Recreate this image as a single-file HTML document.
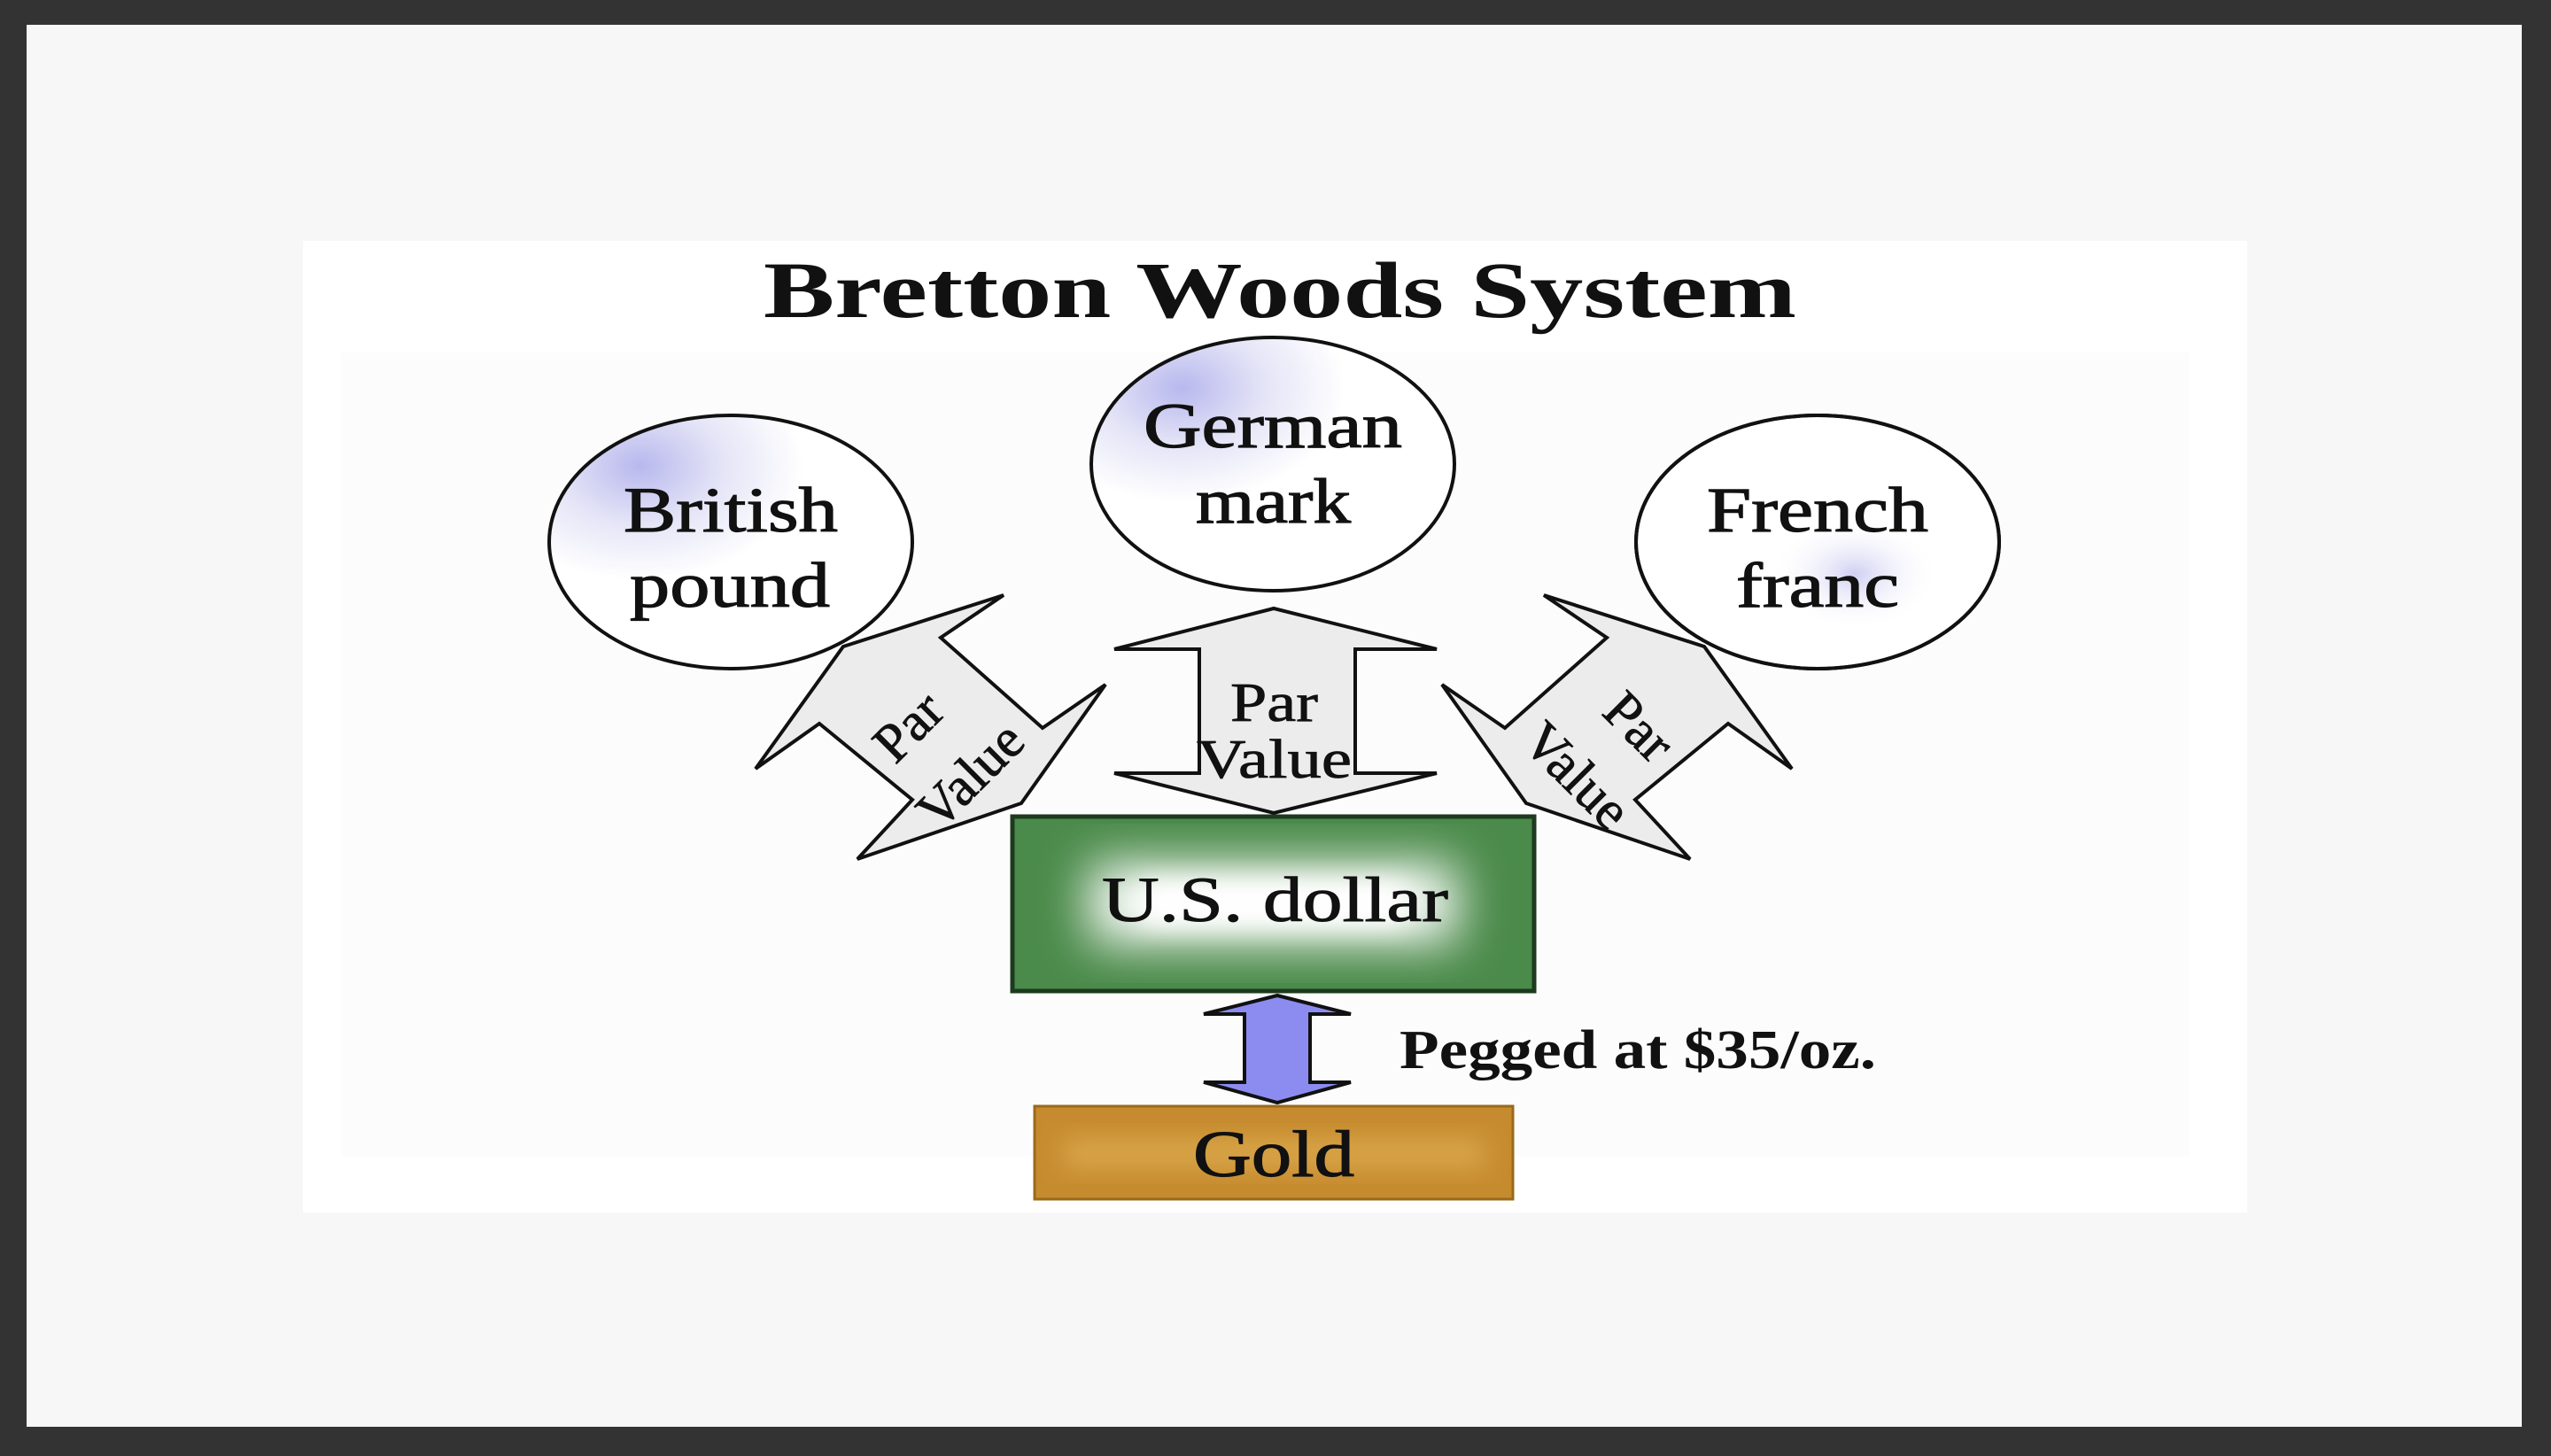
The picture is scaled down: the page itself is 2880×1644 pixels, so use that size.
<!DOCTYPE html>
<html><head><meta charset="utf-8"><style>
html,body{margin:0;padding:0;background:#333;}
svg{display:block;}
text{font-family:"Liberation Serif",serif;fill:#111;}
</style></head><body>
<svg width="2880" height="1644" viewBox="0 0 2880 1644" xmlns="http://www.w3.org/2000/svg">
<defs>
<radialGradient id="cg" cx="0.25" cy="0.2" r="0.45">
<stop offset="0" stop-color="#b8b8ee"/><stop offset="0.5" stop-color="#e4e4f7"/><stop offset="1" stop-color="#ffffff"/>
</radialGradient>
<radialGradient id="cg2" cx="0.6" cy="0.55" r="0.4">
<stop offset="0" stop-color="#cfcff3"/><stop offset="1" stop-color="#ffffff" stop-opacity="0"/>
</radialGradient>
<filter id="bl" x="-20%" y="-50%" width="140%" height="200%"><feGaussianBlur stdDeviation="28"/></filter>
<filter id="bl2" x="-20%" y="-50%" width="140%" height="200%"><feGaussianBlur stdDeviation="14"/></filter>
</defs>
<rect x="0" y="0" width="2880" height="1644" fill="#333"/>
<rect x="30" y="28" width="2817" height="1583" fill="#f7f7f7"/>
<rect x="342" y="272" width="2195" height="1097" fill="#ffffff"/>
<rect x="386" y="398" width="2086" height="908" fill="#fcfcfc"/>

<text x="862" y="358" font-size="90" font-weight="bold" textLength="1166" lengthAdjust="spacingAndGlyphs">Bretton Woods System</text>

<!-- circles -->
<g stroke="#111" stroke-width="4">
<ellipse cx="825" cy="612" rx="205" ry="143" fill="url(#cg)"/>
<ellipse cx="1437" cy="524" rx="205" ry="143" fill="url(#cg)"/>
<ellipse cx="2052" cy="612" rx="205" ry="143" fill="#fff"/>
</g>
<ellipse cx="2070" cy="640" rx="120" ry="80" fill="url(#cg2)"/>
<ellipse cx="2052" cy="612" rx="205" ry="143" fill="none" stroke="#111" stroke-width="4"/>
<g font-size="72" stroke="#111" stroke-width="1.2" lengthAdjust="spacingAndGlyphs">
<text x="704" y="600" textLength="242" lengthAdjust="spacingAndGlyphs">British</text>
<text x="711" y="685" textLength="226" lengthAdjust="spacingAndGlyphs">pound</text>
<text x="1291" y="505" textLength="292" lengthAdjust="spacingAndGlyphs">German</text>
<text x="1350" y="590" textLength="175" lengthAdjust="spacingAndGlyphs">mark</text>
<text x="1927" y="600" textLength="250" lengthAdjust="spacingAndGlyphs">French</text>
<text x="1960" y="685" textLength="184" lengthAdjust="spacingAndGlyphs">franc</text>
</g>

<!-- left diagonal arrow -->
<polygon points="952,730 1133,672 1062,720 1177,822 1248,773 1153,907 968,970 1030,903 925,817 853,868" fill="#ececec" stroke="#111" stroke-width="4" stroke-linejoin="miter"/>
<g font-size="62" stroke="#111" stroke-width="0.8">
<text transform="translate(1040,835) rotate(-45)" text-anchor="middle">Par</text>
<text transform="translate(1110,890) rotate(-45)" text-anchor="middle">Value</text>
</g>
<!-- right diagonal arrow (mirror) -->
<g transform="translate(2876,0) scale(-1,1)">
<polygon points="952,730 1133,672 1062,720 1177,822 1248,773 1153,907 968,970 1030,903 925,817 853,868" fill="#ececec" stroke="#111" stroke-width="4"/>
</g>
<g font-size="62" stroke="#111" stroke-width="0.8">
<text transform="translate(1836,835) rotate(45)" text-anchor="middle">Par</text>
<text transform="translate(1766,890) rotate(45)" text-anchor="middle">Value</text>
</g>

<!-- center vertical arrow -->
<polygon points="1438,687 1622,733 1530,733 1530,873 1622,873 1438,918 1258,873 1354,873 1354,733 1258,733" fill="#ececec" stroke="#111" stroke-width="4"/>
<g font-size="62" stroke="#111" stroke-width="0.8">
<text x="1389" y="814" textLength="99" lengthAdjust="spacingAndGlyphs">Par</text>
<text x="1351" y="878" textLength="175" lengthAdjust="spacingAndGlyphs">Value</text>
</g>

<!-- US dollar box -->
<rect x="1143" y="922" width="589" height="197" fill="#4a8a4a" stroke="#1e3a1e" stroke-width="5"/>
<rect x="1230" y="975" width="415" height="90" fill="#ffffff" filter="url(#bl)"/>
<rect x="1290" y="995" width="295" height="50" fill="#ffffff" filter="url(#bl2)"/>
<text x="1244" y="1040" font-size="72" stroke="#111" stroke-width="1" textLength="391" lengthAdjust="spacingAndGlyphs">U.S. dollar</text>

<!-- blue arrow -->
<polygon points="1442,1124 1525,1145 1479,1145 1479,1222 1525,1222 1442,1245 1359,1222 1405,1222 1405,1145 1359,1145" fill="#8c8cf0" stroke="#111" stroke-width="4"/>
<text x="1580" y="1206" font-size="62" font-weight="bold" textLength="538" lengthAdjust="spacingAndGlyphs">Pegged at $35/oz.</text>

<!-- gold -->
<rect x="1168" y="1249" width="540" height="105" fill="#c68b2e" stroke="#9a6a1a" stroke-width="3"/>
<rect x="1200" y="1285" width="476" height="35" fill="#d9a54a" filter="url(#bl2)"/>
<text x="1347" y="1328" font-size="74" stroke="#111" stroke-width="1.2" textLength="182" lengthAdjust="spacingAndGlyphs">Gold</text>
</svg>
</body></html>
